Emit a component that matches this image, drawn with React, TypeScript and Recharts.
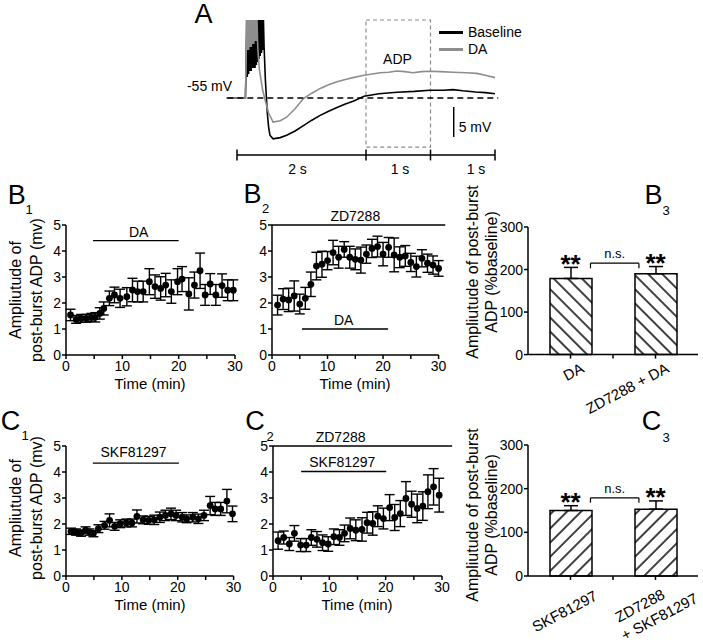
import React from 'react';
import {
  LineChart,
  Line,
  ScatterChart,
  Scatter,
  ComposedChart,
  Bar,
  XAxis,
  YAxis,
  ErrorBar,
  ReferenceLine,
  ReferenceDot,
  ReferenceArea,
  Legend,
} from 'recharts';

const FONT = '"Liberation Sans", Arial, Helvetica, sans-serif';

// A: example traces, time (s) / membrane potential (mV)
const BASE_T = [
  -0.16, 0.13, 0.14, 0.15, 0.16, 0.17, 0.18, 0.19, 0.2, 0.21, 0.22, 0.23, 0.24, 0.25, 0.26, 0.27,
  0.28, 0.29, 0.3, 0.31, 0.32, 0.33, 0.34, 0.35, 0.36, 0.37, 0.38, 0.39, 0.4, 0.41, 0.42, 0.44,
  0.47, 0.49, 0.51, 0.56, 0.67, 0.77, 0.9, 1.03, 1.16, 1.29, 1.42, 1.55, 1.68, 1.8, 1.97, 2.2,
  2.48, 2.75, 2.99, 3.2, 3.35, 3.5, 3.7, 3.85, 4.0,
];
const BASE_V = [
  -55, -55, -51, -42, -51.5, -42, -51, -42, -50.5, -42, -50.5, -42, -50, -42, -50, -42, -50, -42,
  -49.5, -42, -49, -42, -48.5, -42, -48, -42, -47.5, -42, -47, -42, -46.5, -52, -57.5, -59.8,
  -61.2, -61.8, -61.6, -61.2, -60.5, -59.6, -58.7, -57.9, -57.2, -56.6, -56.0, -55.55, -54.7,
  -54.3, -54.05, -53.9, -53.7, -53.7, -53.6, -53.8, -54.0, -54.1, -54.3,
];
const DA_T = [
  -0.16, 0.13, 0.14, 0.15, 0.16, 0.17, 0.18, 0.19, 0.2, 0.21, 0.22, 0.23, 0.24, 0.25, 0.26, 0.27,
  0.28, 0.29, 0.3, 0.31, 0.32, 0.33, 0.35, 0.4, 0.44, 0.49, 0.56, 0.67, 0.77, 0.9, 1.03, 1.16,
  1.29, 1.42, 1.55, 1.68, 1.8, 1.97, 2.1, 2.22, 2.35, 2.48, 2.6, 2.73, 2.86, 2.99, 3.15, 3.35,
  3.55, 3.72, 3.85, 4.0,
];
const DA_V = [
  -55, -55, -50, -42, -47, -42, -47, -42, -46.5, -42, -46.5, -42, -46, -42, -46, -42, -45.5, -42,
  -45.5, -42, -46, -48, -50.5, -53.8, -55.5, -57.5, -59.0, -58.8, -58.2, -56.8, -55.1, -54.2,
  -53.4, -52.8, -52.3, -51.9, -51.6, -51.2, -51.0, -50.8, -50.7, -50.5, -50.6, -50.8, -50.6,
  -50.55, -50.6, -50.7, -50.8, -50.9, -51.2, -51.6,
];

// B1: DA alone (time in min, ADP amplitude in mV, SEM)
const B1_T = [0.8, 1.8, 2.7, 3.6, 4.5, 5.2, 6.0, 6.7, 7.7, 8.6, 9.6, 10.8, 11.8, 12.7, 13.7, 14.8, 15.8, 16.8, 17.7, 18.7, 19.8, 20.6, 21.8, 22.8, 23.8, 24.7, 25.6, 26.6, 27.7, 28.7, 29.7];
const B1_Y = [1.54, 1.37, 1.41, 1.41, 1.45, 1.45, 1.6, 1.79, 2.18, 2.31, 2.18, 2.24, 2.5, 2.44, 2.44, 2.82, 2.63, 2.56, 2.69, 2.44, 2.82, 2.92, 2.35, 2.69, 3.24, 2.31, 2.73, 2.31, 2.67, 2.49, 2.49];
const B1_E = [0.22, 0.15, 0.15, 0.15, 0.15, 0.18, 0.22, 0.25, 0.28, 0.3, 0.35, 0.35, 0.45, 0.4, 0.4, 0.5, 0.45, 0.45, 0.45, 0.45, 0.5, 0.48, 0.62, 0.5, 0.68, 0.4, 0.4, 0.4, 0.45, 0.4, 0.4];

// B2: DA in ZD7288
const B2_T = [1, 2, 3, 4, 5, 6, 7, 8, 9, 10, 11, 12, 13, 14, 15, 16, 17, 18, 19, 20, 21, 22, 23, 24, 25, 26, 27, 28, 29, 30];
const B2_Y = [1.92, 2.15, 2.12, 2.27, 1.96, 2.18, 2.72, 3.42, 3.49, 3.63, 3.94, 3.76, 4.06, 3.76, 3.68, 3.65, 3.88, 4.1, 4.17, 3.88, 4.14, 3.85, 3.76, 3.81, 3.56, 3.4, 3.72, 3.53, 3.46, 3.33];
const B2_E = [0.38, 0.4, 0.45, 0.58, 0.38, 0.42, 0.47, 0.53, 0.5, 0.35, 0.47, 0.42, 0.3, 0.42, 0.4, 0.5, 0.35, 0.35, 0.4, 0.45, 0.38, 0.65, 0.4, 0.4, 0.35, 0.4, 0.33, 0.35, 0.35, 0.3];

// C1: SKF81297 alone
const C1_T = [0.9, 1.8, 2.7, 3.5, 4.2, 4.9, 5.8, 6.9, 7.8, 8.7, 9.7, 10.8, 11.8, 12.7, 13.8, 14.8, 15.8, 16.8, 17.8, 18.8, 19.7, 20.8, 21.6, 22.7, 23.7, 24.7, 25.8, 26.7, 27.7, 28.8, 29.8];
const C1_Y = [1.72, 1.69, 1.65, 1.76, 1.69, 1.63, 1.82, 1.95, 2.14, 1.91, 2.01, 2.04, 2.04, 2.29, 2.16, 2.14, 2.16, 2.26, 2.33, 2.39, 2.33, 2.26, 2.2, 2.26, 2.2, 2.33, 2.71, 2.58, 2.58, 2.88, 2.39];
const C1_E = [0.12, 0.12, 0.12, 0.13, 0.12, 0.12, 0.15, 0.15, 0.25, 0.15, 0.15, 0.15, 0.15, 0.25, 0.15, 0.15, 0.18, 0.2, 0.2, 0.22, 0.2, 0.18, 0.15, 0.18, 0.18, 0.2, 0.35, 0.25, 0.25, 0.45, 0.3];

// C2: SKF81297 in ZD7288
const C2_T = [0.9, 1.9, 2.9, 3.8, 4.9, 5.9, 6.8, 7.8, 8.8, 9.8, 10.8, 11.8, 12.7, 13.7, 14.7, 15.8, 16.7, 17.7, 18.6, 19.6, 20.7, 21.6, 22.6, 23.6, 24.6, 25.6, 26.6, 27.5, 28.5, 29.5];
const C2_Y = [1.36, 1.48, 1.23, 1.64, 1.19, 1.19, 1.48, 1.41, 1.28, 1.23, 1.51, 1.48, 1.64, 1.83, 1.76, 1.79, 2.05, 2.02, 2.3, 2.21, 2.63, 2.25, 2.4, 2.98, 2.76, 2.6, 2.69, 3.24, 3.43, 3.11];
const C2_E = [0.33, 0.25, 0.25, 0.3, 0.25, 0.25, 0.3, 0.3, 0.3, 0.28, 0.3, 0.3, 0.32, 0.4, 0.4, 0.45, 0.4, 0.45, 0.4, 0.4, 0.5, 0.5, 0.5, 0.65, 0.5, 0.55, 0.55, 0.65, 0.7, 0.65];

// B3 / C3 summaries (% baseline, SEM)
const B3_CATS = ['DA', 'ZD7288 + DA'];
const B3_VALS = [179, 190];
const B3_ERRS = [26, 17];
const C3_CATS = ['SKF81297', 'ZD7288\n+ SKF81297'];
const C3_VALS = [150, 153];
const C3_ERRS = [11, 19];

const TIME_TICKS = [0, 5, 10, 15, 20, 25, 30];
const axisStyle = { stroke: '#000', strokeWidth: 1.5 };
const tickFont = { fill: '#000', fontSize: 14 };
const RAD = (28 * Math.PI) / 180;

function Txt({ x, y, size = 14, lines, lh, weight }: any) {
  return (
    <div
      style={{
        position: 'absolute',
        left: x,
        top: y,
        transform: 'translate(-50%, -50%)',
        fontSize: size,
        lineHeight: lh ? `${lh}px` : 1,
        whiteSpace: 'nowrap',
        textAlign: 'center',
        fontWeight: weight,
      }}
    >
      {lines.map((l: string, i: number) => (
        <div key={i}>{l}</div>
      ))}
    </div>
  );
}

// vertical axis title (reads bottom to top), one svg text per line
function VTitle({ x, y, lines, size, lh }: any) {
  const n = lines.length;
  return (
    <svg width={703} height={644} style={{ position: 'absolute', left: 0, top: 0, overflow: 'visible', pointerEvents: 'none' }}>
      {lines.map((l: string, i: number) => {
        const px = x + (i - (n - 1) / 2) * lh;
        return (
          <text key={i} x={px} y={y} transform={`rotate(-90, ${px}, ${y})`} textAnchor="middle" dominantBaseline="central" fontSize={size} fill="#000" fontFamily={FONT}>
            {l}
          </text>
        );
      })}
    </svg>
  );
}

function TraceLegend({ payload }: any) {
  return (
    <div style={{ fontFamily: FONT }}>
      {(payload || []).map((p: any) => (
        <div key={p.value} style={{ display: 'flex', alignItems: 'center', height: 17 }}>
          <span style={{ display: 'inline-block', width: 24, height: 3, background: p.color, marginRight: 5 }} />
          <span style={{ fontSize: 14, lineHeight: 1, color: '#000' }}>{p.value}</span>
        </div>
      ))}
    </div>
  );
}

function TracePanel() {
  const base = BASE_T.map((t, i) => ({ t, v: BASE_V[i] }));
  const da = DA_T.map((t, i) => ({ t, v: DA_V[i] }));
  const bar = { stroke: '#000', strokeWidth: 1.5, ifOverflow: 'visible' as const };
  return (
    <div style={{ position: 'absolute', left: 200, top: 0 }}>
      <LineChart width={310} height={180} margin={{ top: 8, right: 15, bottom: 4, left: 17.65 }}>
        <XAxis type="number" dataKey="t" domain={[-0.3, 4]} hide />
        <YAxis type="number" domain={[-68, -40]} hide />
        <ReferenceArea x1={2} x2={3} y1={-63.2} y2={-42} fill="none" stroke="#8c8c8c" strokeDasharray="4 3" strokeWidth={1.2} />
        <Line data={base} dataKey="v" name="Baseline" type="linear" stroke="#000" strokeWidth={1.6} dot={false} isAnimationActive={false} />
        <Line data={da} dataKey="v" name="DA" type="linear" stroke="#8e8e8e" strokeWidth={1.6} dot={false} isAnimationActive={false} />
        <ReferenceLine segment={[{ x: -0.15, y: -55 }, { x: 4.05, y: -55 }]} stroke="#000" strokeDasharray="6 4" strokeWidth={1.5} ifOverflow="visible" />
        <ReferenceLine segment={[{ x: 0, y: -64.5 }, { x: 4, y: -64.5 }]} {...bar} />
        {[0, 2, 3, 4].map((s) => (
          <ReferenceLine key={s} segment={[{ x: s, y: -63.6 }, { x: s, y: -65.4 }]} {...bar} />
        ))}
        <ReferenceLine segment={[{ x: 3.36, y: -56.5 }, { x: 3.36, y: -61.5 }]} {...bar} />
        <Legend
          layout="vertical"
          align="center"
          verticalAlign="middle"
          content={<TraceLegend />}
          wrapperStyle={{ left: 239, top: 23.5, width: 90, height: 34 }}
        />
      </LineChart>
    </div>
  );
}

type Band = { from: number; to: number; y: number; text: string; tx: number; ty: number };

function TimeCourse({ x0, y0, w, t, y, e, bands }: { x0: number; y0: number; w: number; t: number[]; y: number[]; e: number[]; bands: Band[] }) {
  const data = t.map((tt, i) => ({ t: tt, y: y[i], err: e[i] }));
  const ML = 30;
  const MT = 25;
  const MR = 22;
  return (
    <div style={{ position: 'absolute', left: x0 - ML, top: y0 - MT }}>
      <ScatterChart width={ML + w + MR} height={MT + 130 + 30} margin={{ top: MT, right: MR, bottom: 0, left: 0 }}>
        <XAxis
          type="number"
          dataKey="t"
          domain={[0, 30]}
          ticks={TIME_TICKS}
          tickFormatter={(v: number) => (v % 10 === 0 ? String(v) : '')}
          height={30}
          tickSize={4}
          tickMargin={2}
          axisLine={axisStyle}
          tickLine={axisStyle}
          tick={tickFont}
        />
        <YAxis
          type="number"
          dataKey="y"
          domain={[0, 5]}
          ticks={[0, 1, 2, 3, 4, 5]}
          width={ML}
          tickSize={4}
          tickMargin={1}
          axisLine={axisStyle}
          tickLine={axisStyle}
          tick={tickFont}
        />
        {bands.map((b) => (
          <ReferenceLine key={'l' + b.text} segment={[{ x: b.from, y: b.y }, { x: b.to, y: b.y }]} stroke="#000" strokeWidth={1.3} ifOverflow="visible" />
        ))}
        {bands.map((b) => (
          <ReferenceDot
            key={'t' + b.text}
            x={b.tx}
            y={b.ty}
            r={0}
            fill="none"
            stroke="none"
            ifOverflow="visible"
            label={{ value: b.text, position: 'center', fill: '#000', fontSize: 14 }}
          />
        ))}
        <Scatter
          data={data}
          isAnimationActive={false}
          shape={(p: any) => <circle cx={p.cx} cy={p.cy} r={3.4} fill="#000" />}
        >
          <ErrorBar dataKey="err" direction="y" width={5} stroke="#000" strokeWidth={1.4} />
        </Scatter>
      </ScatterChart>
    </div>
  );
}

// rotated category labels; the rotation sits on each <text>
function CatTick(props: any) {
  const { x, y, payload, labels, mode } = props;
  const idx = (payload.value - 1) / 2;
  if (!Number.isInteger(idx) || !labels[idx]) return null;
  const lines: string[] = labels[idx].split('\n');
  const c = Math.cos(RAD);
  const s = Math.sin(RAD);
  if (mode === 'end') {
    const ax = x + 12;
    const ay = y + 8;
    return (
      <text x={ax} y={ay} transform={`rotate(-28, ${ax}, ${ay})`} textAnchor="end" dominantBaseline="central" fill="#000" fontSize={15}>
        {lines[0]}
      </text>
    );
  }
  const n = lines.length;
  return (
    <g>
      {lines.map((ln, i) => {
        const k = i - (n - 1) / 2;
        const dx = 12 * k;
        const dy = 19 * k;
        const px = x - 6 + dx * c + dy * s;
        const py = y + 31 - dx * s + dy * c;
        return (
          <text key={i} x={px} y={py} transform={`rotate(-28, ${px}, ${py})`} textAnchor="middle" dominantBaseline="central" fill="#000" fontSize={15}>
            {ln}
          </text>
        );
      })}
    </g>
  );
}

function BarPanel({ id, y0, h, cats, vals, errs, angle, mode, bracket, nsY }: any) {
  const data = cats.map((c: string, i: number) => ({ pos: 2 * i + 1, name: c, v: vals[i], err: [0, errs[i]] }));
  const MT = 12;
  const XH = 75;
  const seg = { stroke: '#000', strokeWidth: 1.2, ifOverflow: 'visible' as const };
  return (
    <div style={{ position: 'absolute', left: 528.3 - 45, top: y0 - MT }}>
      <ComposedChart width={45 + 170 + 5} height={MT + h + XH} data={data} margin={{ top: MT, right: 5, bottom: 0, left: 0 }}>
        <defs>
          <pattern id={id} patternUnits="userSpaceOnUse" width="10" height="10" patternTransform={`rotate(${angle})`}>
            <rect width="10" height="10" fill="#fff" />
            <line x1="5" y1="0" x2="5" y2="10" stroke="#000" strokeWidth="1.5" />
          </pattern>
        </defs>
        <XAxis
          type="number"
          dataKey="pos"
          domain={[0, 4]}
          ticks={[1, 2, 3]}
          height={XH}
          tickSize={4}
          tickMargin={0}
          axisLine={axisStyle}
          tickLine={axisStyle}
          tick={<CatTick labels={cats} mode={mode} />}
        />
        <YAxis
          type="number"
          domain={[0, 300]}
          ticks={[0, 100, 200, 300]}
          width={45}
          tickSize={4}
          tickMargin={1}
          axisLine={axisStyle}
          tickLine={axisStyle}
          tick={tickFont}
        />
        <Bar dataKey="v" fill={`url(#${id})`} stroke="#000" strokeWidth={1.5} barSize={42} isAnimationActive={false}>
          <ErrorBar dataKey="err" direction="y" width={7} stroke="#000" strokeWidth={1.5} />
        </Bar>
        {vals.map((v: number, i: number) => (
          <ReferenceDot
            key={'s' + i}
            x={2 * i + 1}
            y={v + errs[i] + 9}
            r={0}
            fill="none"
            stroke="none"
            ifOverflow="visible"
            label={{ value: '**', position: 'center', fill: '#000', fontSize: 26, fontWeight: 'bold' }}
          />
        ))}
        <ReferenceLine segment={[{ x: 1.47, y: bracket[0] }, { x: 2.61, y: bracket[0] }]} {...seg} />
        <ReferenceLine segment={[{ x: 1.47, y: bracket[0] }, { x: 1.47, y: bracket[1] }]} {...seg} />
        <ReferenceLine segment={[{ x: 2.61, y: bracket[0] }, { x: 2.61, y: bracket[1] }]} {...seg} />
        <ReferenceDot
          x={2.04}
          y={nsY}
          r={0}
          fill="none"
          stroke="none"
          ifOverflow="visible"
          label={{ value: 'n.s.', position: 'center', fill: '#000', fontSize: 13 }}
        />
      </ComposedChart>
    </div>
  );
}

export default function App() {
  const ampLines = ['Ampliutude of', 'post-burst ADP (mv)'];
  const pctLines = ['Ampliutude of post-burst', 'ADP (%baseline)'];
  return (
    <div
      style={{
        position: 'absolute',
        left: 0,
        top: 0,
        width: 703,
        height: 644,
        overflow: 'hidden',
        background: '#fff',
        color: '#000',
        fontFamily: FONT,
      }}
    >
      <TracePanel />

      <TimeCourse x0={65.5} y0={225} w={169} t={B1_T} y={B1_Y} e={B1_E}
        bands={[{ from: 4.8, to: 20.0, y: 4.4, text: 'DA', tx: 12.9, ty: 4.74 }]} />
      <TimeCourse x0={271.7} y0={225} w={166.6} t={B2_T} y={B2_Y} e={B2_E}
        bands={[
          { from: 0, to: 31.2, y: 5, text: 'ZD7288', tx: 15, ty: 5.33 },
          { from: 5.4, to: 20.9, y: 1.0, text: 'DA', tx: 12.9, ty: 1.36 },
        ]} />
      <TimeCourse x0={65.7} y0={445.5} w={167.6} t={C1_T} y={C1_Y} e={C1_E}
        bands={[{ from: 4.8, to: 20.2, y: 4.34, text: 'SKF81297', tx: 12.1, ty: 4.75 }]} />
      <TimeCourse x0={272.7} y0={445.5} w={169} t={C2_T} y={C2_Y} e={C2_E}
        bands={[
          { from: 0, to: 31.8, y: 5, text: 'ZD7288', tx: 12.0, ty: 5.33 },
          { from: 5.0, to: 20.1, y: 4.02, text: 'SKF81297', tx: 12.3, ty: 4.4 },
        ]} />

      <BarPanel id="hatchB3" y0={226.7} h={127.6} cats={B3_CATS} vals={B3_VALS} errs={B3_ERRS}
        angle={-45} mode="end" bracket={[215, 203]} nsY={239} />
      <BarPanel id="hatchC3" y0={445} h={131} cats={C3_CATS} vals={C3_VALS} errs={C3_ERRS}
        angle={45} mode="center" bracket={[179, 168]} nsY={200} />

      {/* panel A annotations */}
      <Txt x={209.5} y={86} lines={['-55 mV']} />
      <Txt x={397.5} y={59} lines={['ADP']} />
      <Txt x={475} y={127} lines={['5 mV']} />
      <Txt x={297.5} y={169} lines={['2 s']} />
      <Txt x={400} y={169} lines={['1 s']} />
      <Txt x={476} y={169} lines={['1 s']} />

      {/* axis titles */}
      <Txt x={150} y={383} size={15} lines={['Time (min)']} />
      <Txt x={355} y={383} size={15} lines={['Time (min)']} />
      <Txt x={150} y={604} size={15} lines={['Time (min)']} />
      <Txt x={357} y={604} size={15} lines={['Time (min)']} />
      <VTitle x={25.5} y={290} size={16} lh={21} lines={ampLines} />
      <VTitle x={25.5} y={508} size={16} lh={21} lines={ampLines} />
      <VTitle x={482} y={272} size={16} lh={18.5} lines={pctLines} />
      <VTitle x={482} y={515} size={16} lh={18.5} lines={pctLines} />

      {/* panel letters */}
      <Txt x={203.5} y={14} size={27} lines={['A']} />
      <Txt x={16.7} y={195} size={27} lines={['B']} />
      <Txt x={29} y={209} size={13} lines={['1']} />
      <Txt x={252.5} y={194} size={27} lines={['B']} />
      <Txt x={265.5} y={208} size={13} lines={['2']} />
      <Txt x={653.5} y={195} size={27} lines={['B']} />
      <Txt x={666} y={210} size={13} lines={['3']} />
      <Txt x={10.5} y={421} size={27} lines={['C']} />
      <Txt x={25} y={435} size={13} lines={['1']} />
      <Txt x={255} y={421} size={27} lines={['C']} />
      <Txt x={270} y={436} size={13} lines={['2']} />
      <Txt x={651.5} y={421} size={27} lines={['C']} />
      <Txt x={666} y={437} size={13} lines={['3']} />
    </div>
  );
}
